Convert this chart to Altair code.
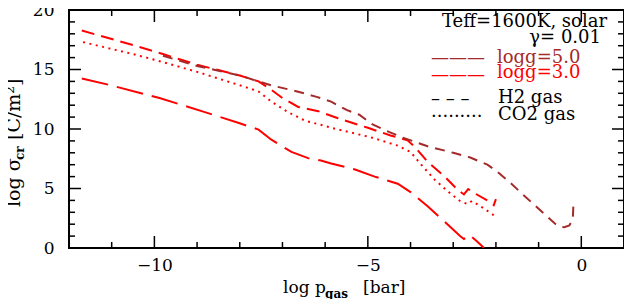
import altair as alt
import pandas as pd

# ---- data ----
h2_g3_x = [-11.7, -10.5, -9.8, -9.0, -8.0, -7.56, -7.3, -7.0, -6.63, -6.16, -5.7, -5.0, -4.47, -4.07, -3.9, -3.6, -3.2, -2.9, -2.75, -2.65, -2.5, -2.2, -2.05, -2.0]
h2_g3_y = [18.27, 17.05, 16.3, 15.4, 14.5, 14.0, 13.4, 12.6, 11.85, 11.5, 10.9, 10.1, 9.46, 9.05, 8.5, 7.24, 6.0, 4.9, 4.5, 4.95, 4.6, 4.0, 3.6, 4.1]

h2_g5_x = [-9.8, -9.0, -8.0, -7.56, -7.26, -6.7, -6.2, -5.86, -5.5, -5.2, -4.9, -4.6, -4.2, -3.6, -3.0, -2.6, -2.2, -2.0, -1.7, -1.4, -0.88, -0.6, -0.5, -0.4, -0.28, -0.2, -0.18]
h2_g5_y = [16.15, 15.3, 14.5, 14.0, 13.66, 13.2, 12.7, 12.3, 11.6, 11.2, 10.4, 9.9, 9.3, 8.55, 8.0, 7.6, 7.0, 6.5, 5.6, 4.6, 2.9, 2.0, 1.8, 1.75, 1.9, 2.4, 4.0]

co2_g3_x = [-11.67, -10.5, -9.88, -9.0, -8.02, -7.72, -7.56, -7.26, -6.86, -6.47, -5.7, -4.93, -4.3, -4.0, -3.75, -3.44, -3.14, -2.84, -2.67, -2.56, -2.37, -2.05]
co2_g3_y = [17.3, 16.3, 15.7, 14.8, 13.7, 13.35, 13.15, 12.3, 11.4, 10.7, 9.96, 9.3, 8.6, 8.07, 7.0, 5.76, 4.8, 3.95, 3.7, 3.95, 3.54, 2.75]

ld_g3_x = [-11.7, -11.05, -9.88, -8.8, -8.02, -7.56, -7.26, -6.79, -6.4, -6.1, -5.86, -5.3, -4.84, -4.3, -4.0, -3.6, -3.2, -2.84, -2.75, -2.62, -2.44, -2.28]
ld_g3_y = [14.24, 13.7, 12.6, 11.4, 10.5, 9.95, 9.1, 8.07, 7.55, 7.35, 7.1, 6.6, 6.0, 5.4, 4.7, 3.5, 2.2, 1.0, 0.75, 1.1, 0.55, 0.0]

series_names = ["H2 logg=3.0", "H2 logg=5.0", "CO2 logg=3.0", "other logg=3.0"]
series_colors = ["#ff0000", "#a52a2a", "#ff0000", "#ff0000"]
series_dash = [[13, 7], [10, 7], [2, 4.5], [27, 9]]

x_major = [-10, -5, 0]
x_minor = [-11, -9, -8, -7, -6, -4, -3, -2, -1]
y_major = [5, 10, 15]
y_minor = [1, 2, 3, 4, 6, 7, 8, 9, 11, 12, 13, 14, 16, 17, 18, 19]
y_labels = [0, 5, 10, 15, 20]

W, H = 555, 238
FONT = "DejaVu Serif"

xscale = alt.Scale(domain=[-12, 1], nice=False, zero=False)
yscale = alt.Scale(domain=[0, 20], nice=False, zero=False)
xaxis = alt.Axis(values=x_major, title=None, ticks=False, domain=False, grid=False,
                 labelFont=FONT, labelFontSize=17, labelColor="black",
                 labelPadding=9, labelFlush=False, labelOverlap=False)
yaxis = alt.Axis(values=y_labels, title=None, ticks=False, domain=False, grid=False,
                 labelFont=FONT, labelFontSize=17, labelColor="black",
                 labelPadding=15, labelFlush=False, labelOverlap=False)

# one layer per curve, styled with mark properties
curve_layers = []
for name, xs, ys, col, dash in zip(series_names,
                                   [h2_g3_x, h2_g5_x, co2_g3_x, ld_g3_x],
                                   [h2_g3_y, h2_g5_y, co2_g3_y, ld_g3_y],
                                   series_colors, series_dash):
    d = pd.DataFrame({"i": range(len(xs)), "x": xs, "y": ys})
    curve_layers.append(
        alt.Chart(d).mark_line(strokeWidth=2, clip=True, color=col, strokeDash=dash).encode(
            x=alt.X("x:Q", scale=xscale, axis=xaxis),
            y=alt.Y("y:Q", scale=yscale, axis=yaxis),
            order=alt.Order("i:Q")))

# inward ticks on all four sides
def xticks(vals, length):
    d = pd.DataFrame({"xv": vals})
    bot = alt.Chart(d).mark_rule(color="black", strokeWidth=1.5).encode(
        x=alt.X("xv:Q", scale=xscale), y=alt.value(H), y2=alt.value(H - length))
    top = alt.Chart(d).mark_rule(color="black", strokeWidth=1.5).encode(
        x=alt.X("xv:Q", scale=xscale), y=alt.value(0), y2=alt.value(length))
    return [bot, top]

def yticks(vals, length):
    d = pd.DataFrame({"yv": vals})
    left = alt.Chart(d).mark_rule(color="black", strokeWidth=1.5).encode(
        y=alt.Y("yv:Q", scale=yscale), x=alt.value(0), x2=alt.value(length))
    right = alt.Chart(d).mark_rule(color="black", strokeWidth=1.5).encode(
        y=alt.Y("yv:Q", scale=yscale), x=alt.value(W), x2=alt.value(W - length))
    return [left, right]

one = pd.DataFrame({"k": [0]})

def txt(s, x, y, size=18, color="black", align="left", angle=0, weight="normal"):
    return alt.Chart(one).mark_text(text=s, align=align, baseline="alphabetic", font=FONT,
                                    fontSize=size, color=color, angle=angle,
                                    fontWeight=weight).encode(x=alt.value(x), y=alt.value(y))

texts = [
    # x title
    txt("log p", 214, 283, size=17),
    txt("gas", 256, 288, size=12, weight="bold"),
    txt("[bar]", 294, 283, size=17),
    # y title
    txt("log σ", -49, 197, size=19, angle=270),
    txt("cr", -45, 150, size=12, angle=270, weight="bold"),
    txt("[C/m²]", -49, 130, size=19, angle=270),
    # legend
    txt("Teff=1600K, solar", 538, 17, size=18, align="right"),
    txt("γ=  0.01", 532, 33, size=18, align="right"),
    txt("logg=5.0", 428, 53, size=18, color="#a52a2a"),
    txt("logg=3.0", 428, 68, size=18, color="#ff0000"),
    txt("H2 gas", 429, 93, size=18),
    txt("CO2 gas", 429, 110, size=18),
    # legend line samples drawn with glyphs
    txt("———", 362, 54, size=18, color="#a52a2a"),
    txt("———", 362, 71, size=18, color="#ff0000"),
    txt("–  –  –", 362, 95, size=18),
    txt("·········", 362, 112, size=18),
]

layers = list(curve_layers)
layers += xticks(x_major, 12) + xticks(x_minor, 6)
layers += yticks(y_major, 12) + yticks(y_minor, 6)
layers += texts

chart = alt.layer(*layers).properties(
    width=W, height=H,
    autosize=alt.AutoSizeParams(type="none"),
    padding={"left": 61, "top": 2, "right": 0, "bottom": 51},
).configure_view(stroke="black", strokeWidth=2)

chart.save("out.html", embed_options={"renderer": "svg", "actions": False})
